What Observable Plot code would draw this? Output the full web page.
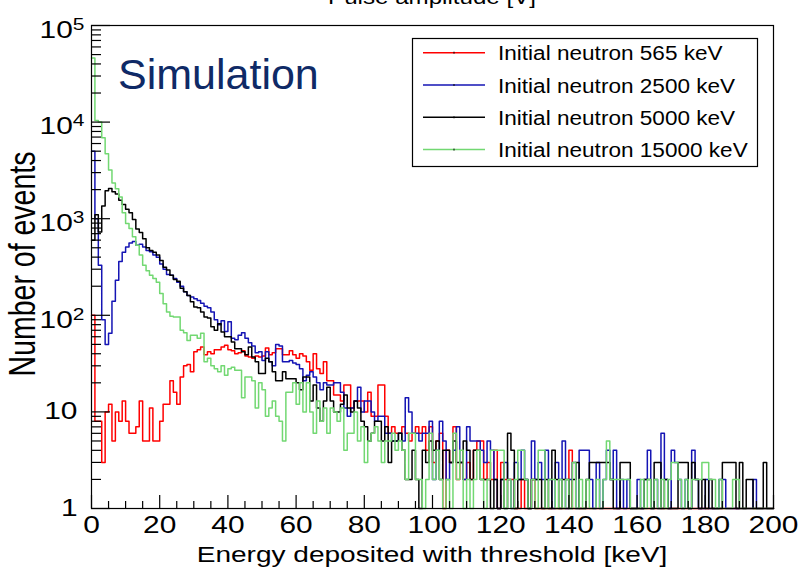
<!DOCTYPE html>
<html><head><meta charset="utf-8">
<script src="https://cdn.jsdelivr.net/npm/d3@7"></script>
<script src="https://cdn.jsdelivr.net/npm/@observablehq/plot@0.6"></script>
<style>
body{margin:0;background:#fff}
#chart{position:relative;width:798px;height:570px;overflow:hidden}
</style>
</head><body><div id="chart"></div>
<script>
// Bin lower edges are 0..199 keV (1 keV bins); values are counts per bin.
const seriesNames = ["Initial neutron 565 keV", "Initial neutron 2500 keV", "Initial neutron 5000 keV", "Initial neutron 15000 keV"];
const seriesColors = ["#ff0000", "#1414b4", "#000000", "#72d872"];

const red = [
100, 8, 8, 3, 10, 12, 5, 10, 8, 13,
8, 6, 6, 7, 13, 5, 5, 11, 5, 5,
8, 12, 12, 21, 16, 12, 23, 30, 31, 26,
42, 44, 47, 39, 42, 40, 44, 44, 47, 49,
44, 43, 40, 41, 43, 38, 37, 36, 38, 37,
38, 46, 39, 41, 45, 45, 39, 39, 43, 39,
36, 40, 38, 33, 27, 40, 28, 25, 33, 21,
21, 15, 15, 13, 19, 19, 11, 13, 13, 13,
10, 16, 9, 9, 19, 19, 9, 6, 7, 6,
6, 7, 6, 5, 6, 7, 6, 7, 4, 7,
3, 5, 6, 1, 4, 3, 7, 2, 3, 2,
3, 2, 4, 5, 5, 2, 3, 2, 4, 0,
3, 2, 2, 2, 0, 1, 2, 0, 1, 2,
1, 0, 1, 0, 1, 0, 1, 0, 0, 1,
4, 1, 0, 0, 1, 0, 0, 0, 1, 0,
0, 0, 0, 0, 0, 0, 0, 0, 0, 0,
0, 0, 0, 0, 0, 0, 0, 0, 0, 0,
0, 0, 0, 0, 0, 0, 0, 0, 0, 0,
0, 0, 0, 0, 0, 0, 0, 0, 0, 0,
0, 0, 0, 0, 0, 0, 0, 0, 0, 0];

const blue = [
5000, 1000, 330, 90, 50, 65, 140, 230, 360, 450,
510, 560, 580, 530, 545, 510, 470, 455, 420, 400,
340, 300, 265, 260, 240, 220, 200, 175, 160, 155,
148, 142, 133, 124, 120, 108, 90, 80, 88, 68,
86, 58, 56, 62, 66, 58, 52, 48, 41, 42,
34, 42, 33, 30, 50, 48, 33, 33, 34, 32,
31, 28, 21, 24, 26, 23, 20, 17, 20, 19,
19, 20, 20, 16, 11, 9, 11, 13, 18, 10,
13, 13, 10, 8, 9, 9, 6, 6, 5, 5,
6, 5, 14, 10, 6, 6, 5, 6, 6, 8,
2, 4, 8, 5, 2, 3, 4, 7, 3, 2,
7, 5, 5, 5, 4, 3, 5, 4, 2, 1,
2, 3, 2, 1, 3, 2, 4, 2, 1, 5,
2, 3, 2, 4, 2, 1, 3, 2, 5, 1,
2, 3, 1, 4, 4, 4, 2, 1, 3, 1,
2, 4, 2, 4, 1, 2, 0, 2, 1, 0,
2, 1, 2, 4, 1, 2, 0, 6, 2, 1,
4, 3, 2, 1, 2, 0, 4, 2, 1, 0,
2, 1, 0, 1, 2, 2, 1, 0, 1, 0,
1, 0, 1, 0, 2, 0, 1, 0, 0, 0];

const black = [
600, 1100, 730, 1350, 1950, 2050, 1900, 1800, 1550, 1400,
1250, 1150, 980, 780, 720, 620, 500, 470, 450, 420,
370, 315, 295, 260, 235, 225, 190, 175, 160, 138,
122, 120, 108, 96, 94, 76, 70, 82, 67, 60,
60, 53, 45, 45, 42, 39, 47, 37, 33, 25,
25, 36, 33, 26, 21, 21, 26, 22, 22, 22,
20, 17, 23, 23, 13, 19, 11, 8, 13, 18,
13, 10, 10, 12, 15, 11, 10, 13, 11, 8,
7, 5, 6, 8, 8, 5, 7, 3, 5, 5,
6, 4, 2, 2, 4, 2, 0, 4, 3, 5,
4, 5, 2, 4, 4, 3, 5, 3, 3, 5,
4, 2, 4, 4, 2, 2, 2, 1, 2, 1,
2, 1, 6, 4, 1, 2, 2, 2, 1, 2,
2, 2, 1, 2, 1, 4, 2, 1, 2, 2,
1, 2, 3, 1, 1, 2, 3, 3, 3, 3,
3, 3, 2, 1, 1, 3, 3, 3, 1, 0,
1, 0, 2, 2, 1, 3, 3, 1, 2, 1,
0, 1, 3, 3, 3, 1, 3, 2, 1, 2,
1, 2, 0, 1, 1, 3, 3, 3, 3, 1,
3, 1, 2, 2, 1, 0, 1, 3, 0, 0];

const green = [
46000, 10400, 10000, 6900, 4700, 3200, 2340, 2040, 1680, 1150,
890, 790, 650, 530, 420, 330, 290, 260, 240, 220,
168, 132, 108, 98, 96, 96, 70, 66, 55, 62,
62, 58, 65, 33, 36, 30, 28, 26, 30, 24,
28, 29, 27, 27, 14, 23, 23, 21, 11, 20,
17, 9, 11, 13, 9, 8, 5, 16, 16, 20,
12, 20, 10, 20, 10, 6, 13, 8, 11, 6,
11, 10, 8, 11, 4, 6, 6, 10, 5, 7,
3, 5, 6, 7, 5, 3, 5, 5, 6, 4,
5, 4, 2, 6, 6, 2, 2, 0, 2, 6,
2, 4, 2, 1, 2, 1, 6, 2, 4, 1,
2, 1, 2, 4, 2, 1, 2, 4, 4, 4,
4, 1, 2, 1, 2, 4, 4, 2, 1, 2,
1, 4, 4, 1, 2, 2, 1, 2, 1, 2,
1, 3, 1, 2, 1, 2, 1, 0, 2, 1,
2, 5, 2, 2, 2, 2, 2, 2, 1, 0,
1, 2, 1, 2, 1, 2, 1, 2, 1, 2,
3, 3, 2, 1, 2, 1, 2, 2, 2, 3,
3, 2, 2, 1, 2, 1, 0, 1, 2, 2,
1, 0, 1, 0, 1, 0, 0, 0, 0, 0];

const xMajorTicks = [0, 20, 40, 60, 80, 100, 120, 140, 160, 180, 200];
const xMinorTicks = d3.range(0, 201, 5).filter(d => d % 20 !== 0);
const yMajorTicks = [1, 10, 100, 1000, 10000, 100000];
const yMinorTicks = [1, 10, 100, 1000, 10000].flatMap(d => [2,3,4,5,6,7,8,9].map(k => k * d));
const xTitle = "Energy deposited with threshold [keV]";
const yTitle = "Number of events";
const overlayText = "Simulation";
const cutTitle = "Pulse amplitude [V]";

const allValues = [red, blue, black, green];
const histRows = allValues.map((vals, s) => {
  const rows = vals.map((v, i) => ({x: i, v, s}));
  rows.push({x: 200, v: vals[vals.length - 1], s});
  return rows;
});

const FONT = "'Liberation Sans', Arial, Helvetica, sans-serif";
const SX = 1.3; // horizontal stretch of ROOT text

const yFmt = d => d === 1 ? "1" : d === 10 ? "10" : "10^" + Math.round(Math.log10(d));

const chart = Plot.plot({
  width: 798, height: 570,
  marginLeft: 91, marginRight: 25, marginTop: 25, marginBottom: 62,
  style: {fontFamily: FONT, background: "transparent", color: "#000"},
  x: {domain: [0, 200]},
  y: {type: "log", domain: [1, 1e5]},
  marks: [
    ...histRows.map((rows, s) => Plot.line(rows, {
      x: "x", y: d => Math.max(d.v, 1), curve: "step-after",
      stroke: seriesColors[s], strokeWidth: 1.5
    })),
    Plot.frame({stroke: "#000", strokeWidth: 1.2}),
    Plot.axisX({ticks: xMajorTicks, tickSize: -13, tickFormat: () => "", label: null, strokeWidth: 1.2}),
    Plot.axisX({ticks: xMinorTicks, tickSize: -7, tickFormat: () => "", label: null, strokeWidth: 1.2}),
    Plot.axisX({ticks: xMajorTicks, tickSize: 0, tickPadding: 8, tickFormat: d => String(d), fontSize: 23, label: null}),
    Plot.axisY({ticks: yMajorTicks, tickSize: -19, tickFormat: () => "", label: null, strokeWidth: 1.2}),
    Plot.axisY({ticks: yMinorTicks, tickSize: -10, tickFormat: () => "", label: null, strokeWidth: 1.2}),
    Plot.axisY({ticks: yMajorTicks, tickSize: 0, tickPadding: 7, tickFormat: yFmt, fontSize: 23, label: null})
  ]
});
document.getElementById("chart").appendChild(chart);

// horizontal stretch about the text's own anchor point
function stretch(node, sx, pre = "") {
  const t = node.getAttribute("transform") || "";
  const xa = parseFloat(node.getAttribute("x"));
  const x0 = isFinite(xa) ? xa : 0;
  node.setAttribute("transform", `${t}${pre} translate(${x0},0) scale(${sx},1) translate(${-x0},0)`);
}

const svg = d3.select(chart);
svg.selectAll('g[aria-label="y-axis tick label"] text').each(function() {
  const s = this.textContent;
  if (!s) return;
  const el = d3.select(this);
  if (s.includes("^")) {
    const [b, e] = s.split("^");
    el.text(b);
    el.append("tspan").attr("font-size", "0.7em").attr("dy", "-0.5em").text(e);
    stretch(this, SX, " translate(0,5)");
  } else {
    stretch(this, SX, " translate(-7,0)");
  }
});
svg.selectAll('g[aria-label="x-axis tick label"] text').each(function() {
  if (!this.textContent) return;
  stretch(this, SX);
});

// axis titles
svg.append("text").attr("transform", `translate(432,562) scale(1.275,1)`)
  .attr("text-anchor", "middle").attr("font-size", 22).attr("font-family", FONT).text(xTitle);
svg.append("text").attr("transform", `translate(35,264) rotate(-90) scale(0.77,1)`)
  .attr("text-anchor", "middle").attr("font-size", 37).attr("font-family", FONT).text(yTitle);

// cut-off title of the panel above
svg.append("text").attr("transform", `translate(432,4) scale(1.15,1)`)
  .attr("text-anchor", "middle").attr("font-size", 21).attr("font-family", FONT).text(cutTitle);

// Simulation overlay
svg.append("text").attr("x", 118).attr("y", 89).attr("text-anchor", "start").attr("font-size", 43).attr("fill", "#0f2a66")
  .attr("font-family", FONT).text(overlayText);

// legend
const lg = svg.append("g");
lg.append("rect").attr("x", 412.5).attr("y", 38.5).attr("width", 345).attr("height", 128)
  .attr("fill", "#fff").attr("stroke", "#000").attr("stroke-width", 1.2);
seriesNames.forEach((name, i) => {
  const yy = 52.7 + i * 32.3;
  lg.append("line").attr("x1", 423).attr("x2", 485).attr("y1", yy).attr("y2", yy)
    .attr("stroke", seriesColors[i]).attr("stroke-width", 1.5);
  lg.append("line").attr("x1", 454).attr("x2", 454).attr("y1", yy - 1).attr("y2", yy + 1)
    .attr("stroke", "#000").attr("stroke-width", 1);
  lg.append("text").attr("font-size", 21).attr("font-family", FONT).attr("text-anchor", "start")
    .attr("transform", `translate(498,${yy + 7.5}) scale(1.075,1)`).text(name);
});
</script>
</body></html>
